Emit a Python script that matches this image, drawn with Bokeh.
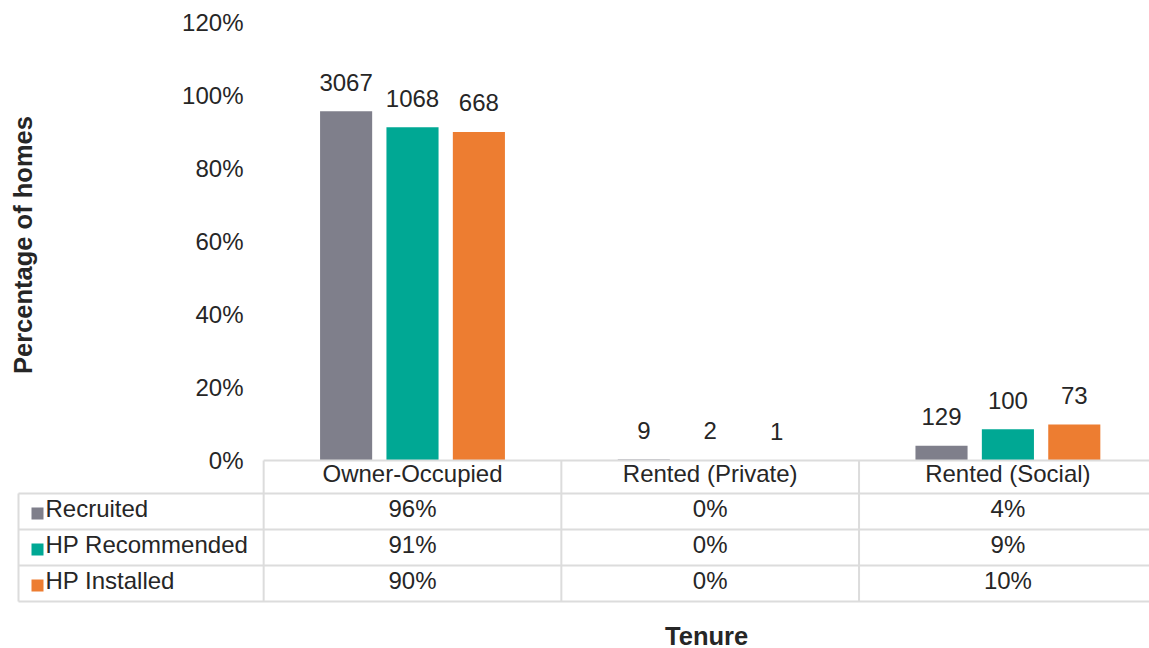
import numpy as np
from bokeh.plotting import figure
from bokeh.models import Range1d
from bokeh.core.properties import value
from bokeh.embed import file_html
from bokeh.resources import INLINE

# ---- data -------------------------------------------------------------
tenure = ["Owner-Occupied", "Rented (Private)", "Rented (Social)"]
series = ["Recruited", "HP Recommended", "HP Installed"]
recruited = [3067, 9, 129]
hp_recommended = [1068, 2, 100]
hp_installed = [668, 1, 73]
y_ticks = [0, 20, 40, 60, 80, 100, 120]

counts = [recruited, hp_recommended, hp_installed]
colors = ["#7f7f8b", "#00a894", "#ed7d31"]

# ---- page layout (pixels) ---------------------------------------------
W, H = 1149, 648
X0_PX = 412.0      # centre of the first category
CAT_PX = 297.7     # width of one category column
Y0_PX = 460.0      # baseline (0 %)
UNIT_PX = 3.65     # pixels per percentage point


def xd(px):
    return (px - X0_PX) / CAT_PX


def yd(px):
    return (Y0_PX - px) / UNIT_PX


FONT = value("Liberation Sans")
TXT = "#262626"
GRID = "#dcdcdc"
FS = value("24px")
TITLE_FS = value("25.5px")

p = figure(width=W, height=H, x_range=Range1d(xd(0), xd(W)),
           y_range=Range1d(yd(H), yd(0)), x_axis_type=None, y_axis_type=None,
           output_backend="svg", toolbar_location=None, min_border=0,
           outline_line_color=None, background_fill_color="white",
           border_fill_color="white")
p.grid.visible = False

n_cat = len(tenure)
cat_x = np.arange(n_cat, dtype=float)
offset = 0.223
bar_w = 0.175

# ---- bars and count labels --------------------------------------------
shares = []
for k, (cnt, col) in enumerate(zip(counts, colors)):
    cnt = np.array(cnt, dtype=float)
    share = cnt / cnt.sum() * 100.0
    shares.append(share)
    xs = cat_x + (k - 1) * offset
    p.vbar(x=xs, top=share, bottom=0, width=bar_w, fill_color=col,
           line_color=None)
    p.text(x=xs, y=share, text=[str(int(c)) for c in cnt],
           text_align="center", text_baseline="alphabetic", y_offset=-29,
           text_font=FONT, text_font_size=FS, text_color=TXT)

# ---- y tick labels ----------------------------------------------------
p.text(x=[xd(243)] * len(y_ticks), y=y_ticks,
       text=[f"{t}%" for t in y_ticks], text_align="right",
       text_baseline="middle", text_font=FONT, text_font_size=FS,
       text_color=TXT)

# ---- data table -------------------------------------------------------
table_left = xd(18)
table_right = xd(W + 20)
label_col_right = cat_x[0] - 0.5
header_top = yd(460)
row_px = [493, 529, 565, 601]
row_lines = [yd(r) for r in row_px]

# horizontal rules
p.segment(x0=[label_col_right], y0=[header_top], x1=[table_right],
          y1=[header_top], line_color=GRID, line_width=2)
p.segment(x0=[table_left] * len(row_lines), y0=row_lines,
          x1=[table_right] * len(row_lines), y1=row_lines,
          line_color=GRID, line_width=2)
# vertical rules
bounds = list(cat_x - 0.5)
p.segment(x0=bounds, y0=[header_top] * len(bounds), x1=bounds,
          y1=[row_lines[-1]] * len(bounds), line_color=GRID, line_width=2)
p.segment(x0=[table_left], y0=[row_lines[0]], x1=[table_left],
          y1=[row_lines[-1]], line_color=GRID, line_width=2)

# header row with category names
p.text(x=cat_x, y=[yd(473)] * n_cat, text=tenure, text_align="center",
       text_baseline="middle", text_font=FONT, text_font_size=FS,
       text_color=TXT)

# series rows
for r, (name, col, share) in enumerate(zip(series, colors, shares)):
    top_px, bot_px = row_px[r], row_px[r + 1]
    mid = yd((top_px + bot_px) / 2 - 3)
    p.scatter(x=[xd(37)], y=[yd((top_px + bot_px) / 2 + 2)], marker="square",
              size=12, fill_color=col, line_color=None)
    p.text(x=[xd(45)], y=[mid], text=[name], text_align="left",
           text_baseline="middle", text_font=FONT, text_font_size=FS,
           text_color=TXT)
    p.text(x=cat_x, y=[mid] * n_cat,
           text=[f"{int(round(s))}%" for s in share], text_align="center",
           text_baseline="middle", text_font=FONT, text_font_size=FS,
           text_color=TXT)

# ---- axis titles ------------------------------------------------------
p.text(x=[xd(22)], y=[yd(241)], text=["Percentage  of homes"],
       angle=np.pi / 2, text_align="center", text_baseline="middle",
       text_font=FONT, text_font_size=TITLE_FS,
       text_font_style="bold", text_color=TXT)
p.text(x=[(cat_x[0] - 0.5 + xd(W)) / 2], y=[yd(635)], text=["Tenure"],
       text_align="center", text_baseline="middle", text_font=FONT,
       text_font_size=TITLE_FS, text_font_style="bold",
       text_color=TXT)

open("out.html", "w").write(file_html(p, INLINE))
